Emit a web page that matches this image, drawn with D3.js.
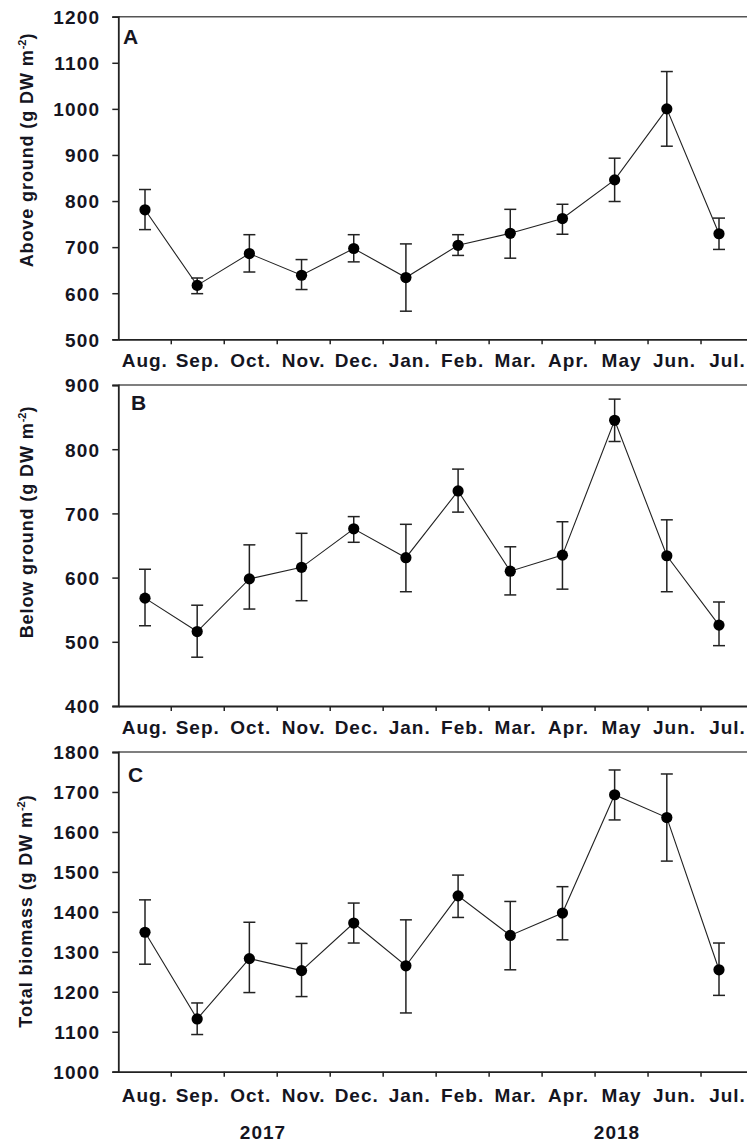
<!DOCTYPE html>
<html>
<head>
<meta charset="utf-8">
<script src="https://cdn.jsdelivr.net/npm/d3@7/dist/d3.min.js"></script>
<style>
  html, body { margin: 0; padding: 0; background: #fff; }
  svg { display: block; }
  text { font-family: "Liberation Sans", Arial, sans-serif; font-weight: bold; fill: #15151f; }
</style>
</head>
<body>
<svg id="chart" width="747" height="1143"></svg>
<script>
// Sampling months (Aug. 2017 – Jul. 2018)
const months = ["Aug.", "Sep.", "Oct.", "Nov.", "Dec.", "Jan.", "Feb.", "Mar.", "Apr.", "May", "Jun.", "Jul."];
const years = ["2017", "2018"];

// Above-ground biomass (g DW m-2): mean and error-bar limits
const aboveMean = [781, 617, 686, 639, 697, 634, 704, 730, 762, 846, 1000, 729];
const aboveLow  = [738, 599, 646, 608, 668, 561, 682, 676, 728, 799, 919, 695];
const aboveHigh = [825, 633, 727, 673, 727, 707, 727, 782, 793, 893, 1081, 763];

// Below-ground biomass (g DW m-2)
const belowMean = [568, 516, 598, 616, 676, 631, 735, 610, 635, 845, 634, 526];
const belowLow  = [525, 476, 551, 564, 655, 578, 702, 573, 582, 812, 578, 494];
const belowHigh = [613, 557, 651, 669, 695, 683, 769, 648, 687, 878, 690, 562];

// Total biomass (g DW m-2)
const totalMean = [1349, 1132, 1283, 1253, 1372, 1265, 1440, 1341, 1397, 1693, 1636, 1255];
const totalLow  = [1269, 1093, 1198, 1188, 1322, 1147, 1386, 1255, 1330, 1630, 1527, 1191];
const totalHigh = [1430, 1172, 1374, 1321, 1422, 1380, 1492, 1426, 1463, 1755, 1745, 1322];

// Tick values per panel
const aboveTicks = d3.range(500, 1201, 100);
const belowTicks = d3.range(400, 901, 100);
const totalTicks = d3.range(1000, 1801, 100);

// Panel layout
const left = 118.3, right = 754;
const panels = [
  { letter: "A", title: "Above ground (g DW m", mean: aboveMean, low: aboveLow, high: aboveHigh,
    ticks: aboveTicks, top: 16.7, bottom: 339.3, labelDy: 28, titleX: 33, titleY: 150, letterX: 123, letterY: 44 },
  { letter: "B", title: "Below ground (g DW m", mean: belowMean, low: belowLow, high: belowHigh,
    ticks: belowTicks, top: 385, bottom: 706, labelDy: 28, titleX: 33, titleY: 522, letterX: 131, letterY: 410 },
  { letter: "C", title: "Total biomass (g DW m", mean: totalMean, low: totalLow, high: totalHigh,
    ticks: totalTicks, top: 752, bottom: 1071.7, labelDy: 30, titleX: 32, titleY: 911, letterX: 128, letterY: 782 }
];

const svg = d3.select("#chart");

// Month bands: tick marks sit on band edges, labels on band centres
const band = d3.scaleBand().domain(months).range([left, right]).paddingInner(0).paddingOuter(0);
// Sampling positions of the data points
const xPt = d3.scalePoint().domain(months).range([145, 719]);

panels.forEach(p => {
  const g = svg.append("g");
  const y = d3.scaleLinear()
    .domain([p.ticks[0], p.ticks[p.ticks.length - 1]])
    .range([p.bottom, p.top]);

  // top frame line
  g.append("line")
    .attr("x1", left).attr("x2", 747)
    .attr("y1", p.top).attr("y2", p.top)
    .attr("stroke", "#555").attr("stroke-width", 1.6);

  // y axis
  const yAxis = d3.axisLeft(y).tickValues(p.ticks).tickSize(6).tickPadding(12).tickFormat(d3.format("d"));
  const ya = g.append("g").attr("transform", `translate(${left},0)`).call(yAxis);
  ya.select(".domain").attr("stroke", "#222").attr("stroke-width", 1.8);
  ya.selectAll(".tick line").attr("stroke", "#222").attr("stroke-width", 1.5);
  ya.selectAll(".tick text")
    .style("font-size", "19px").style("letter-spacing", "1.2px")
    .attr("fill", "#15151f").attr("dy", "0.36em");

  // x axis with month labels
  const xAxis = d3.axisBottom(band).tickSize(0).tickFormat(d => d);
  const xa = g.append("g").attr("transform", `translate(0,${p.bottom})`).call(xAxis);
  xa.select(".domain").attr("stroke", "#222").attr("stroke-width", 1.8);
  xa.selectAll(".tick line").remove();
  xa.selectAll(".tick text")
    .style("font-size", "19px").style("letter-spacing", "1px")
    .attr("fill", "#15151f").attr("y", 0).attr("dy", 0)
    .attr("transform", `translate(0,${p.labelDy})`);
  // boundary ticks between months
  g.selectAll(".bound")
    .data(months.slice(1))
    .join("line")
    .attr("class", "bound")
    .attr("x1", d => band(d)).attr("x2", d => band(d))
    .attr("y1", p.bottom).attr("y2", p.bottom + 5)
    .attr("stroke", "#222").attr("stroke-width", 1.5);

  // panel letter
  g.append("text").attr("x", p.letterX).attr("y", p.letterY)
    .style("font-size", "21px").text(p.letter);

  // y axis title with superscript
  const t = g.append("text")
    .attr("transform", `translate(${p.titleX},${p.titleY}) rotate(-90)`)
    .attr("text-anchor", "middle")
    .style("font-size", "18px").style("letter-spacing", "0.9px");
  t.append("tspan").text(p.title);
  t.append("tspan").attr("dy", -7).style("font-size", "11px").style("letter-spacing", "0px").text("-2");
  t.append("tspan").attr("dy", 7).text(")");

  const rows = months.map((m, i) => ({ m, v: p.mean[i], lo: p.low[i], hi: p.high[i] }));

  // connecting line
  const line = d3.line().x(d => xPt(d.m)).y(d => y(d.v));
  g.append("path").datum(rows).attr("d", line)
    .attr("fill", "none").attr("stroke", "#222").attr("stroke-width", 1.1);

  // error bars
  const eb = g.selectAll(".eb").data(rows).join("g").attr("class", "eb")
    .attr("stroke", "#222").attr("stroke-width", 1.5);
  eb.append("line").attr("x1", d => xPt(d.m)).attr("x2", d => xPt(d.m))
    .attr("y1", d => y(d.lo)).attr("y2", d => y(d.hi));
  eb.append("line").attr("x1", d => xPt(d.m) - 6).attr("x2", d => xPt(d.m) + 6)
    .attr("y1", d => y(d.hi)).attr("y2", d => y(d.hi));
  eb.append("line").attr("x1", d => xPt(d.m) - 6).attr("x2", d => xPt(d.m) + 6)
    .attr("y1", d => y(d.lo)).attr("y2", d => y(d.lo));

  // points
  g.selectAll(".pt").data(rows).join("circle").attr("class", "pt")
    .attr("cx", d => xPt(d.m)).attr("cy", d => y(d.v)).attr("r", 5.6)
    .attr("fill", "#000");
});

// year labels under the bottom panel
const yearX = d3.scaleOrdinal().domain(years).range([263, 617]);
svg.selectAll(".year").data(years).join("text").attr("class", "year")
  .attr("x", d => yearX(d)).attr("y", 1139)
  .attr("text-anchor", "middle")
  .style("font-size", "19px").style("letter-spacing", "1px")
  .text(d => d);
</script>
</body>
</html>
